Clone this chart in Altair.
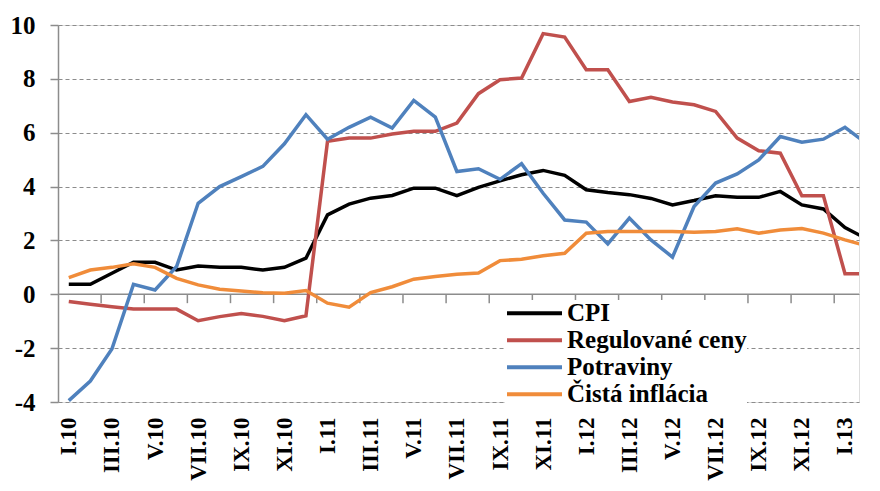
import altair as alt
import pandas as pd

roman = ["I", "II", "III", "IV", "V", "VI", "VII", "VIII", "IX", "X", "XI", "XII"]
years = ["10", "11", "12", "13"]
months = [f"{r}.{y}" for y in years for r in roman][:38]

series_names = ["CPI", "Regulované ceny", "Potraviny", "Čistá inflácia"]
colors = ["#000000", "#C0504D", "#4F81BD", "#F08C3A"]

cpi = [0.37, 0.37, 0.78, 1.19, 1.19, 0.9, 1.05, 1.0, 1.0, 0.9,
       1.0, 1.34, 2.95, 3.35, 3.57, 3.67, 3.94, 3.94, 3.66, 3.97,
       4.21, 4.44, 4.6, 4.42, 3.88, 3.78, 3.7, 3.56, 3.32, 3.48,
       3.66, 3.6, 3.6, 3.82, 3.32, 3.17, 2.48, 2.06]
regulovane = [-0.27, -0.37, -0.46, -0.55, -0.55, -0.55, -0.98, -0.83, -0.71, -0.82,
              -0.98, -0.8, 5.68, 5.8, 5.8, 5.95, 6.05, 6.05, 6.36, 7.45,
              7.97, 8.03, 9.68, 9.55, 8.34, 8.34, 7.16, 7.32, 7.14, 7.04,
              6.79, 5.8, 5.33, 5.24, 3.66, 3.66, 0.76, 0.76]
potraviny = [-3.95, -3.22, -2.03, 0.37, 0.16, 1.03, 3.38, 4.0, 4.37, 4.75,
             5.59, 6.67, 5.76, 6.2, 6.58, 6.17, 7.2, 6.58, 4.56, 4.66,
             4.27, 4.85, 3.75, 2.76, 2.68, 1.87, 2.83, 2.02, 1.38, 3.26,
             4.13, 4.47, 4.99, 5.86, 5.65, 5.76, 6.2, 5.6]
cista = [0.62, 0.9, 1.0, 1.13, 1.0, 0.59, 0.35, 0.19, 0.12, 0.06,
         0.04, 0.14, -0.33, -0.48, 0.06, 0.28, 0.56, 0.66, 0.74, 0.79,
         1.25, 1.3, 1.43, 1.52, 2.27, 2.33, 2.33, 2.33, 2.33, 2.3,
         2.33, 2.43, 2.27, 2.39, 2.44, 2.27, 2.02, 1.8]

y_ticks = [-4, -2, 0, 2, 4, 6, 8, 10]
x_label_idx = list(range(0, 37, 2))
x_tick_pos = [i + 1.5 for i in range(0, 36, 2)]

rows = []
for name, vals in zip(series_names, [cpi, regulovane, potraviny, cista]):
    for i, v in enumerate(vals):
        rows.append({"idx": i, "month": months[i], "series": name, "value": v})
df = pd.DataFrame(rows)
ticks_df = pd.DataFrame({"pos": x_tick_pos})

label_expr = "[" + ",".join(f"'{m}'" for m in months) + "][datum.value]"

FONT = "'Liberation Serif', 'Times New Roman', 'DejaVu Serif', serif"
GRAY = "#8C8C8C"

xscale = alt.Scale(domain=[-0.5, 36.65], nice=False, zero=False)
yscale = alt.Scale(domain=[-4, 10], nice=False, zero=False)

lines = alt.Chart(df).mark_line(strokeWidth=3.5, clip=True).encode(
    x=alt.X("idx:Q", scale=xscale, title=None,
            axis=alt.Axis(values=x_label_idx, labelExpr=label_expr, labelAngle=270,
                          domain=False, ticks=False, grid=False,
                          labelFont=FONT, labelFontWeight="bold", labelFontSize=23,
                          labelColor="#000000", labelPadding=15,
                          labelFlush=False, labelOverlap=False)),
    y=alt.Y("value:Q", scale=yscale, title=None,
            axis=alt.Axis(values=y_ticks, labelExpr="'' + datum.value",
                          domain=True, domainColor=GRAY, domainWidth=1.5,
                          ticks=True, tickColor=GRAY, tickSize=8, tickWidth=1.5,
                          grid=True, gridColor=GRAY, gridDash=[4, 3], gridWidth=1.2,
                          labelFont=FONT, labelFontWeight="bold", labelFontSize=25,
                          labelColor="#000000", labelPadding=15)),
    color=alt.Color("series:N",
                    scale=alt.Scale(domain=series_names, range=colors),
                    sort=series_names,
                    legend=alt.Legend(title=None, orient="none", legendX=447, legendY=275,
                                      symbolType="stroke", symbolSize=3025,
                                      symbolStrokeWidth=4, clipHeight=26.3,
                                      rowPadding=0, padding=0, labelOffset=3,
                                      labelFont=FONT, labelFontWeight="bold",
                                      labelFontSize=25, labelColor="#000000",
                                      labelLimit=400, fillColor="white")),
)

zero_line = alt.Chart(pd.DataFrame({"v": [0]})).mark_rule(color=GRAY, strokeWidth=1.5).encode(
    y=alt.Y("v:Q", scale=yscale)
)

x_ticks = alt.Chart(ticks_df).mark_rule(color=GRAY, strokeWidth=1.5).encode(
    x=alt.X("pos:Q", scale=xscale),
    y=alt.datum(0, scale=yscale),
    y2=alt.datum(-0.33),
)

chart = alt.layer(zero_line, x_ticks, lines).properties(
    width=801,
    height=377,
    padding={"left": 50, "top": 17, "right": 13, "bottom": 81},
    autosize=alt.AutoSizeParams(type="none"),
).configure_view(stroke=None).configure(background="white")

chart.save("out.html", embed_options={"renderer": "svg", "actions": False})
